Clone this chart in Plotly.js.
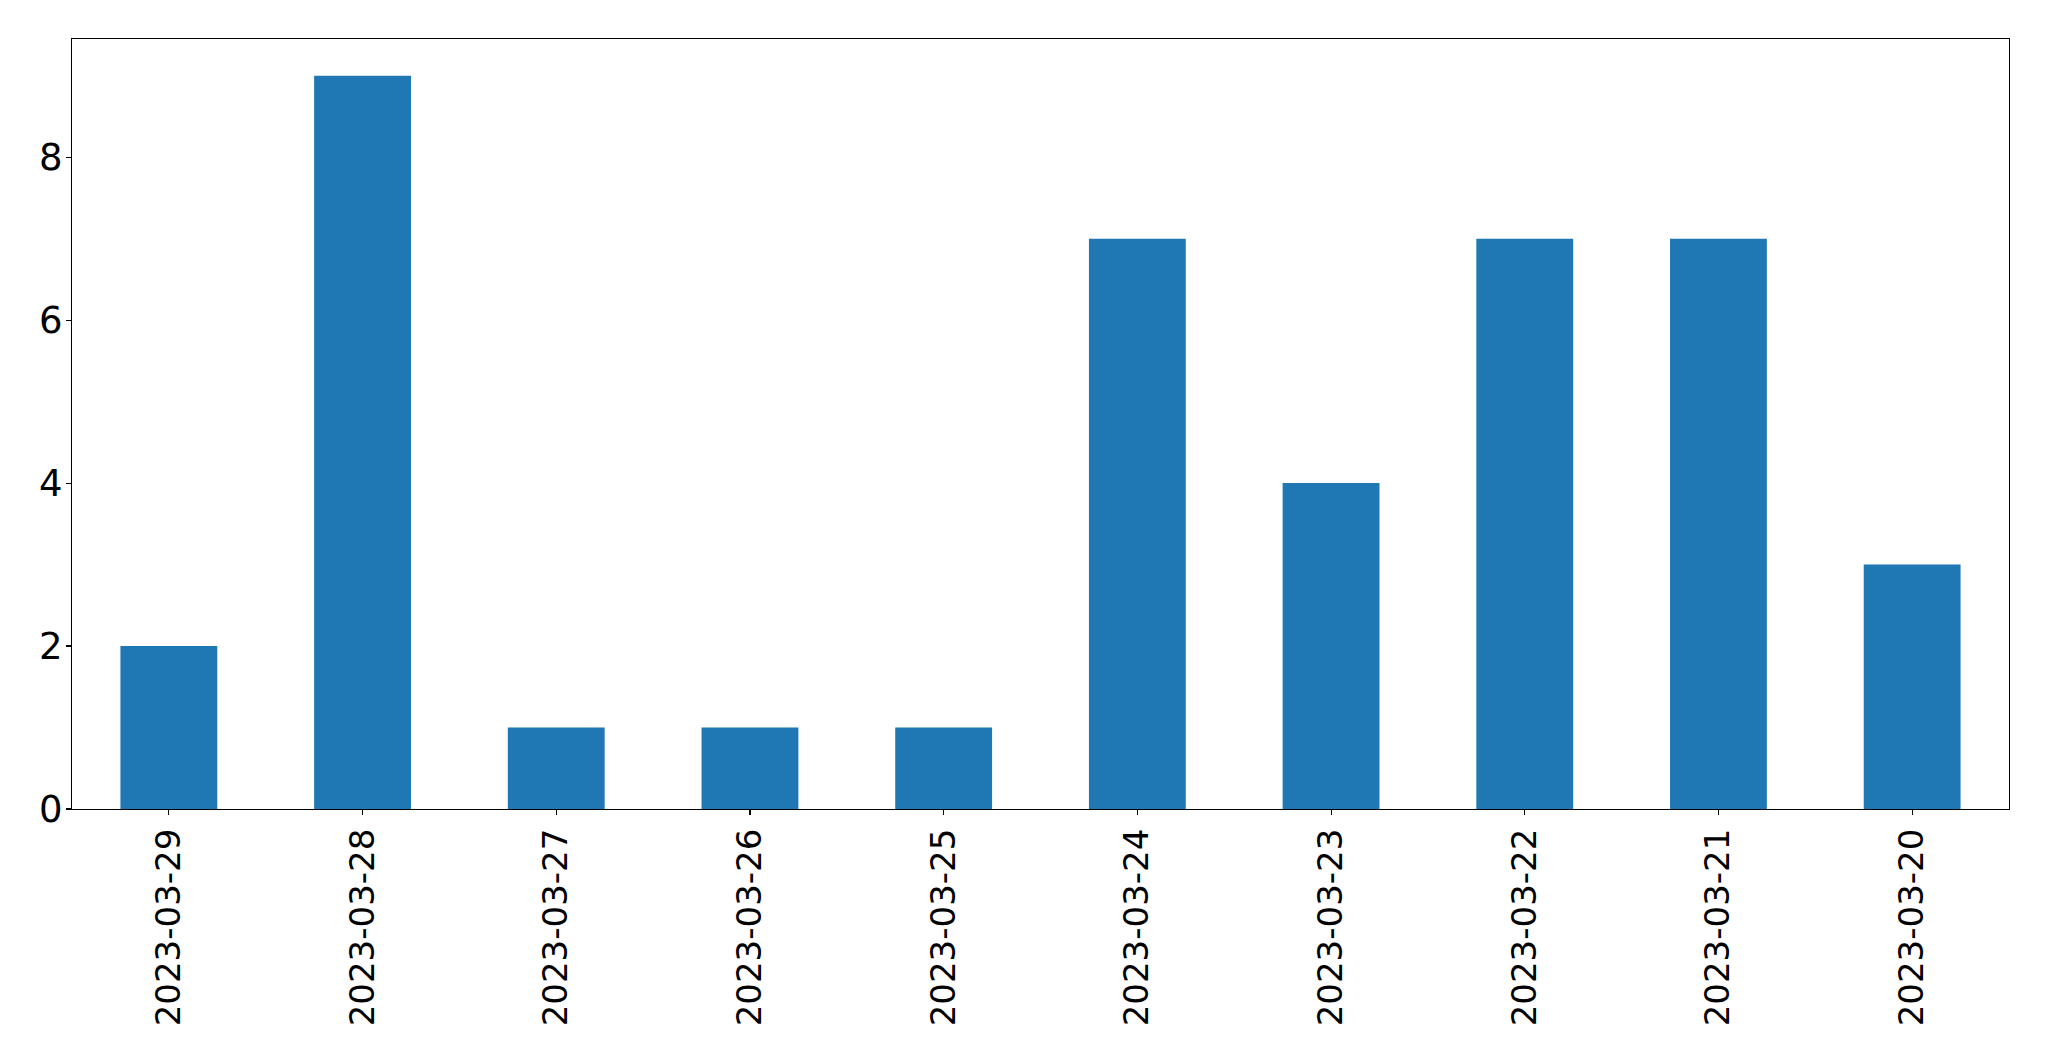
<!DOCTYPE html>
<html>
<head>
<meta charset="utf-8">
<script src="https://cdn.plot.ly/plotly-3.0.1.min.js"></script>
<style>html,body{margin:0;padding:0;background:#fff;}#chart{width:2049px;height:1061px;}</style>
</head>
<body>
<div id="chart"></div>
<script>
const dates = ["2023-03-29","2023-03-28","2023-03-27","2023-03-26","2023-03-25","2023-03-24","2023-03-23","2023-03-22","2023-03-21","2023-03-20"];
const counts = [2, 9, 1, 1, 1, 7, 4, 7, 7, 3];
const yTicks = [0, 2, 4, 6, 8];

const trace = {
  type: 'bar',
  x: dates,
  y: counts,
  width: 0.5,
  marker: {color: '#1f77b4', line: {width: 0}},
  hoverinfo: 'x+y'
};

const axisCommon = {
  showline: true,
  mirror: true,
  linecolor: '#000',
  linewidth: 1.1,
  ticks: 'outside',
  ticklen: 5,
  tickwidth: 1.1,
  tickcolor: '#000',
  showgrid: false,
  zeroline: false
};

const layout = {
  width: 2049,
  height: 1061,
  margin: {l: 72, r: 40, t: 39, b: 252, pad: 0},
  paper_bgcolor: '#fff',
  plot_bgcolor: '#fff',
  showlegend: false,
  xaxis: Object.assign({}, axisCommon, {
    type: 'category',
    range: [-0.5, 9.5],
    tickangle: -90,
    tickfont: {family: 'DejaVu Sans', size: 34, color: '#000'},
    automargin: false
  }),
  yaxis: Object.assign({}, axisCommon, {
    range: [0, 9.45],
    tickvals: yTicks,
    ticktext: yTicks.map(String),
    tickfont: {family: 'DejaVu Sans', size: 37, color: '#000'},
    ticklabelstandoff: -4,
    automargin: false
  })
};

Plotly.newPlot('chart', [trace], layout, {displayModeBar: false, staticPlot: true});
</script>
</body>
</html>
